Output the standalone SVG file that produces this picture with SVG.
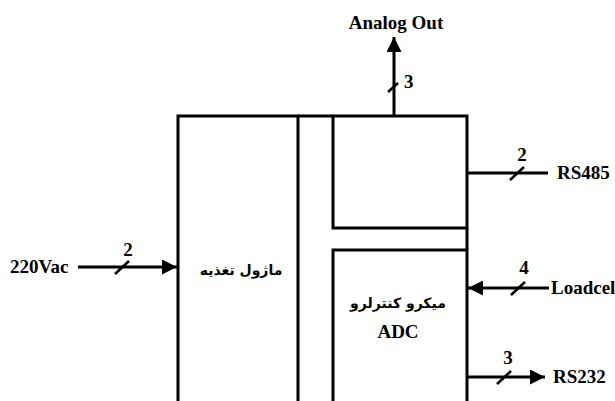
<svg xmlns="http://www.w3.org/2000/svg" width="615" height="401" viewBox="0 0 615 401">
<style>
.ln{stroke:#000;stroke-width:3;fill:none}
.sl{stroke:#000;stroke-width:2.5;fill:none}
.t{font-family:"Liberation Serif",serif;font-weight:bold;font-size:19px;fill:#000}
.fa{font-family:"DejaVu Sans",sans-serif;font-weight:bold;font-size:14px;fill:#000}
</style>
<defs>
<marker id="ah" viewBox="0 0 10 10" refX="10" refY="5" markerWidth="6.5" markerHeight="5" markerUnits="strokeWidth" orient="auto">
<path d="M0,0 L10,5 L0,10 z" fill="#000"/>
</marker>
</defs>
<rect width="615" height="401" fill="#fff"/>
<g id="power">
<path class="ln" d="M178,401 V116 H298 V401"/>
<text class="fa" x="241" y="275" text-anchor="middle" direction="rtl">ماژول تغذیه</text>
</g>
<g id="bus">
<path class="ln" d="M298,116 H333"/>
</g>
<g id="analog-module">
<path class="ln" d="M333,116 H467 V228 H333 Z"/>
</g>
<g id="mcu">
<path class="ln" d="M333,401 V250 H467 V401"/>
<path class="ln" d="M467,228 V250"/>
<text class="fa" x="398" y="308" text-anchor="middle" direction="rtl">میکرو کنترلرو</text>
<text class="t" x="398" y="338" text-anchor="middle">ADC</text>
</g>
<g id="connectors">
<line class="ln" x1="394" y1="116" x2="394" y2="37" marker-end="url(#ah)"/>
<line class="sl" x1="388" y1="92" x2="398" y2="83"/>
<line class="ln" x1="467" y1="173" x2="548" y2="173"/>
<line class="sl" x1="510" y1="180" x2="524" y2="167"/>
<line class="ln" x1="78" y1="267" x2="177" y2="267" marker-end="url(#ah)"/>
<line class="sl" x1="115" y1="274" x2="129" y2="261"/>
<line class="ln" x1="549" y1="288" x2="468" y2="288" marker-end="url(#ah)"/>
<line class="sl" x1="511" y1="295" x2="525" y2="282"/>
<line class="ln" x1="467" y1="377" x2="545" y2="377" marker-end="url(#ah)"/>
<line class="sl" x1="497" y1="384" x2="511" y2="371"/>
</g>
<g id="labels">
<text class="t" x="396" y="29" text-anchor="middle">Analog Out</text>
<text class="t" x="404" y="88">3</text>
<text class="t" x="522" y="161" text-anchor="middle">2</text>
<text class="t" x="557" y="179">RS485</text>
<text class="t" x="128" y="256" text-anchor="middle">2</text>
<text class="t" x="10" y="273">220Vac</text>
<text class="t" x="524" y="274" text-anchor="middle">4</text>
<text class="t" x="551" y="294">Loadcel</text>
<text class="t" x="508" y="364" text-anchor="middle">3</text>
<text class="t" x="553" y="383">RS232</text>
</g>
</svg>
